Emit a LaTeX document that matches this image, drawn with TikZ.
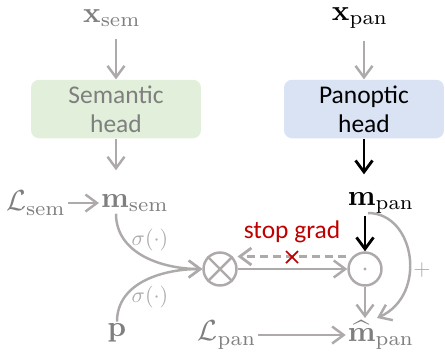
\documentclass[tikz,border=0pt]{standalone}
\usepackage{amsmath}
\usepackage{graphicx}
\usepackage[no-math]{fontspec}
\setmainfont{Carlito}
\usetikzlibrary{arrows.meta}

\definecolor{textgray}{HTML}{7F7F7F}
\definecolor{linegray}{HTML}{AEAAAA}
\definecolor{softgray}{HTML}{ABABAB}
\definecolor{semgreen}{HTML}{E2EFDA}
\definecolor{panblue}{HTML}{DAE3F3}
\definecolor{gradred}{HTML}{C00000}

\newcommand{\bigmath}[1]{\scalebox{1.65}{$#1$}}
\newcommand{\sigmath}[1]{\scalebox{1.25}{$#1$}}

\tikzset{
	arr/.style={draw=linegray, line width=1.4pt, -{Straight Barb[length=2.3mm,width=3.4mm]}},
	headbox/.style={rounded corners=1.6mm, minimum height=1.12cm, align=center, font=\fontsize{14.5}{16.5}\selectfont},
	var/.style={inner sep=1pt},
	sig/.style={text=softgray},
	op/.style={circle, draw=linegray, line width=1.4pt, minimum size=0.66cm, inner sep=0pt},
}

\begin{document}
\begin{tikzpicture}[x=0.02cm,y=-0.02cm]
		\useasboundingbox (0,0) rectangle (445,356);

		% semantic branch
		\node[var, text=textgray] (xsem) at (112,18) {\bigmath{\mathbf{x}_{\mathrm{sem}}}};
		\node[headbox, fill=semgreen, text=textgray, minimum width=3.4cm] (sembox) at (116,109) {Semantic\\head};
		\node[var, text=textgray] (msem) at (135,203) {\bigmath{\mathbf{m}_{\mathrm{sem}}}};
		\node[var, text=textgray] (lsem) at (36,203) {\bigmath{\mathcal{L}_{\mathrm{sem}}}};
		\node[var, text=textgray] (p) at (117,333) {\bigmath{\mathbf{p}}};

		% panoptic branch
		\node[var] (xpan) at (360,18) {\bigmath{\mathbf{x}_{\mathrm{pan}}}};
		\node[headbox, fill=panblue, minimum width=3.2cm] (panbox) at (364,109) {Panoptic\\head};
		\node[var] (mpan) at (381,203) {\bigmath{\mathbf{m}_{\mathrm{pan}}}};
		\node[var, text=textgray] (mhat) at (381,335) {\bigmath{\widehat{\mathbf{m}}_{\mathrm{pan}}}};
		\node[var, text=textgray] (lpan) at (227,335) {\bigmath{\mathcal{L}_{\mathrm{pan}}}};

		% operators
		\node[op] (otimes) at (220,269) {};
		\draw[linegray, line width=1.4pt] (otimes.north west) -- (otimes.south east);
		\draw[linegray, line width=1.4pt] (otimes.north east) -- (otimes.south west);
		\node[op] (odot) at (365,269) {};
		\fill[linegray] (odot) circle (1.6);

		% labels
		\node[sig] (sig1) at (150,240) {\sigmath{\sigma(\cdot)}};
		\node[sig] (sig2) at (150,297) {\sigmath{\sigma(\cdot)}};
		\node[text=gradred, font=\fontsize{14.5}{16.5}\selectfont] (stopgrad) at (292,232) {stop grad};
		\node[text=softgray] (plus) at (422,270) {\sigmath{+}};
		\coordinate (stopx) at (292,257);
		\coordinate (loopstart) at (368,213);
		\coordinate (loopend) at (377,318);

		% connectors
		\draw[arr, shorten <=2mm] (xsem.south -| sembox) -- (sembox);
		\draw[arr, shorten >=4.4mm] (sembox) -- (sembox |- msem.north);
		\draw[arr] (lsem) -- (msem);
		\draw[arr, shorten <=2mm] (xpan.south -| panbox) -- (panbox);
		\draw[arr, draw=black, line width=1.6pt, shorten >=3.2mm] (panbox) -- (panbox |- mpan.north);
		\draw[arr, draw=black, line width=1.6pt] (mpan.south -| odot) -- (odot);
		\draw[arr] (msem.south -| sembox) to[out=-90, in=180] (otimes.west);
		\draw[arr] (p) to[out=90, in=180] (otimes.west);
		\draw[arr] (otimes) -- (odot);
		\draw[arr, dash pattern=on 5pt off 2.4pt, line width=1.6pt, shorten <=1.2mm, shorten >=1mm] (odot.north west) -- (otimes.north east);
		\draw[gradred, line width=1pt] ([shift={(-6,-6)}]stopx) -- ([shift={(6,6)}]stopx);
		\draw[gradred, line width=1pt] ([shift={(-6,6)}]stopx) -- ([shift={(6,-6)}]stopx);
		\draw[arr] (odot) -- (odot |- mhat.north);
		\draw[arr] (loopstart) .. controls +(47,0) and +(51,-23) .. (loopend);
		\draw[arr] (lpan) -- (mhat);
	\end{tikzpicture}
\end{document}
